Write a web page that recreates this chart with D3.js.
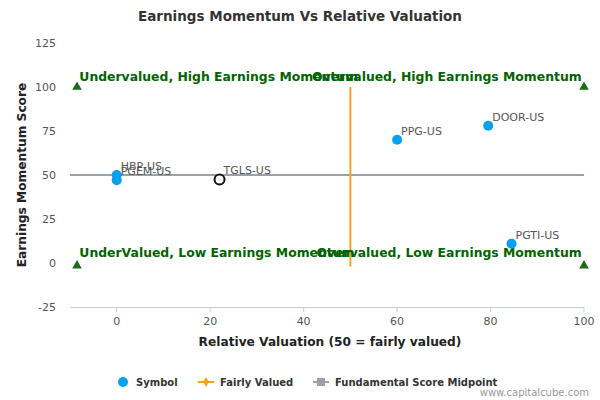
<!DOCTYPE html><html><head><meta charset="utf-8"><script src="https://cdn.jsdelivr.net/npm/d3@7"></script>
<style>body{margin:0;background:#fff}text{font-family:"DejaVu Sans",sans-serif}</style></head><body><svg width="600" height="400"></svg><script>
const symbols=["HBP-US","PGEM-US","TGLS-US","PPG-US","DOOR-US","PGTI-US"];
const valuation=[0,0,22,60,79.5,84.5];
const momentum=[50,47,47.5,70,78,11];
const highlighted=[false,false,true,false,false,false];
const xTicks=[0,20,40,60,80,100];
const yTicks=[-25,0,25,50,75,100,125];
const corners=[[-8.5,100],[100,100],[-8.5,-1.5],[100,-1.5]];
const quadLabels=[["Undervalued, High Earnings Momentum",-8,100,"start"],["Overvalued, High Earnings Momentum",99.5,100,"end"],["UnderValued, Low Earnings Momentum",-8,0,"start"],["Overvalued, Low Earnings Momentum",99.5,0,"end"]];
const svg=d3.select("svg");
const x=d3.scaleLinear().domain([-10,100]).range([70,584]);
const y=d3.scaleLinear().domain([-25,125]).range([307,43]);
svg.append("text").attr("x",300).attr("y",21).attr("text-anchor","middle").attr("font-size",13.5).attr("font-weight","bold").attr("fill","#333").text("Earnings Momentum Vs Relative Valuation");
yTicks.forEach(t=>{svg.append("text").attr("x",56).attr("y",y(t)+4).attr("text-anchor","end").attr("font-size",11).attr("fill","#555").text(t);});
svg.append("line").attr("x1",70).attr("x2",584).attr("y1",307.5).attr("y2",307.5).attr("stroke","#c0d0e0");
xTicks.forEach(t=>{svg.append("line").attr("x1",x(t)).attr("x2",x(t)).attr("y1",307).attr("y2",312).attr("stroke","#c0d0e0");
svg.append("text").attr("x",x(t)).attr("y",325).attr("text-anchor","middle").attr("font-size",11).attr("fill","#555").text(t);});
svg.append("text").attr("x",330).attr("y",346).attr("text-anchor","middle").attr("font-size",12.2).attr("font-weight","bold").attr("fill","#222").text("Relative Valuation (50 = fairly valued)");
svg.append("text").attr("transform","translate(26,175) rotate(-90)").attr("text-anchor","middle").attr("font-size",12.2).attr("font-weight","bold").attr("fill","#222").text("Earnings Momentum Score");
svg.append("line").attr("x1",70).attr("x2",584).attr("y1",y(50)).attr("y2",y(50)).attr("stroke","#9aa0ac").attr("stroke-width",2);
svg.append("line").attr("x1",x(50)).attr("x2",x(50)).attr("y1",y(100)).attr("y2",y(-2)).attr("stroke","#f7a21b").attr("stroke-width",2);
corners.forEach(c=>svg.append("path").attr("d",d3.symbol(d3.symbolTriangle,40)()).attr("transform",`translate(${x(c[0])},${y(c[1])})`).attr("fill","#1a6b1a"));
quadLabels.forEach(q=>svg.append("text").attr("x",x(q[1])).attr("y",y(q[2])-6).attr("text-anchor",q[3]).attr("font-size",12.4).attr("font-weight","bold").attr("fill","#006400").text(q[0]));
symbols.forEach((s,i)=>{
 if(highlighted[i]) svg.append("circle").attr("cx",x(valuation[i])).attr("cy",y(momentum[i])).attr("r",5).attr("fill","#fff").attr("stroke","#111").attr("stroke-width",2);
 else svg.append("circle").attr("cx",x(valuation[i])).attr("cy",y(momentum[i])).attr("r",5).attr("fill","#0aa0f0");
 svg.append("text").attr("x",x(valuation[i])+4).attr("y",y(momentum[i])-5).attr("font-size",11).attr("fill","#555").text(s);});
const lg=svg.append("g").attr("font-size",10).attr("font-weight","bold").attr("fill","#333");
lg.append("circle").attr("cx",123).attr("cy",382).attr("r",5).attr("fill","#0aa0f0");
lg.append("text").attr("x",136).attr("y",385.5).text("Symbol");
lg.append("line").attr("x1",198).attr("x2",214).attr("y1",382).attr("y2",382).attr("stroke","#f7a21b").attr("stroke-width",2);
lg.append("path").attr("d",d3.symbol(d3.symbolDiamond,30)()).attr("transform","translate(206,382)").attr("fill","#f7a21b");
lg.append("text").attr("x",220).attr("y",385.5).text("Fairly Valued");
lg.append("line").attr("x1",313).attr("x2",329).attr("y1",382).attr("y2",382).attr("stroke","#9aa0ac").attr("stroke-width",2);
lg.append("rect").attr("x",317).attr("y",378).attr("width",8).attr("height",8).attr("fill","#9aa0ac");
lg.append("text").attr("x",335).attr("y",385.5).text("Fundamental Score Midpoint");
svg.append("text").attr("x",589).attr("y",396).attr("text-anchor","end").attr("font-size",10).attr("fill","#999").text("www.capitalcube.com");
</script></body></html>
